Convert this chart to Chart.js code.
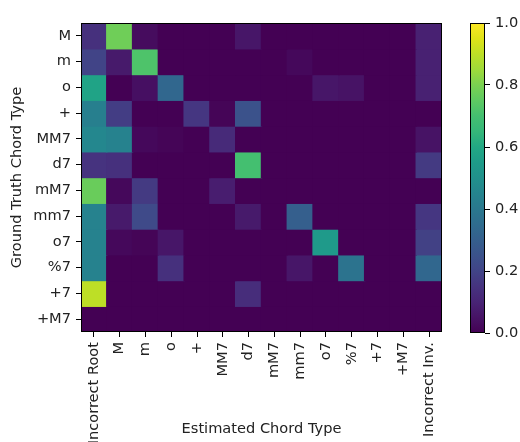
<!DOCTYPE html>
<html>
<head>
<meta charset="utf-8">
<script src="https://cdn.jsdelivr.net/npm/chart.js@4.4.0/dist/chart.umd.min.js"></script>
<style>
  html, body { margin: 0; padding: 0; background: #fff; }
  #wrap { position: relative; width: 520px; height: 442px; }
  #mainBox { position: absolute; left: 0; top: 0; width: 458px; height: 442px; }
  #barBox { position: absolute; left: 458px; top: 0; width: 62px; height: 442px; }
</style>
</head>
<body>
<div id="wrap">
  <div id="mainBox"><canvas id="confChart"></canvas></div>
  <div id="barBox"><canvas id="colorBar"></canvas></div>
</div>
<script>
// estimated / ground truth chord types
var estLabels = ["Incorrect Root", "M", "m", "o", "+", "MM7", "d7", "mM7", "mm7", "o7", "%7", "+7", "+M7", "Incorrect Inv."];
var truthLabels = ["M", "m", "o", "+", "MM7", "d7", "mM7", "mm7", "o7", "%7", "+7", "+M7"];

// one row per ground truth type
var rowM   = [0.14, 0.78, 0.03, 0, 0, 0, 0.06, 0, 0, 0, 0, 0, 0, 0.09];
var rowm   = [0.20, 0.07, 0.72, 0, 0, 0, 0, 0, 0.02, 0, 0, 0, 0, 0.09];
var rowo   = [0.58, 0, 0.04, 0.33, 0, 0, 0, 0, 0, 0.06, 0.05, 0, 0, 0.09];
var rowAug = [0.43, 0.18, 0, 0, 0.16, 0.01, 0.25, 0, 0, 0, 0, 0, 0, 0];
var rowMM7 = [0.46, 0.44, 0.02, 0.01, 0, 0.12, 0, 0, 0, 0, 0, 0, 0, 0.05];
var rowd7  = [0.15, 0.14, 0, 0, 0, 0, 0.70, 0, 0, 0, 0, 0, 0, 0.17];
var rowmM7 = [0.77, 0.02, 0.17, 0, 0, 0.08, 0, 0, 0, 0, 0, 0, 0, 0];
var rowmm7 = [0.44, 0.07, 0.22, 0, 0, 0, 0.07, 0, 0.30, 0, 0, 0, 0, 0.16];
var rowo7  = [0.44, 0.02, 0.01, 0.06, 0, 0, 0, 0, 0, 0.54, 0, 0, 0, 0.19];
var rowHd7 = [0.44, 0, 0, 0.14, 0, 0, 0, 0, 0.06, 0, 0.38, 0, 0, 0.33];
var rowA7  = [0.90, 0, 0, 0, 0, 0, 0.13, 0, 0, 0, 0, 0, 0, 0];
var rowAM7 = [0, 0, 0, 0, 0, 0, 0, 0, 0, 0, 0, 0, 0, 0];
var matrixRows = [rowM, rowm, rowo, rowAug, rowMM7, rowd7, rowmM7, rowmm7, rowo7, rowHd7, rowA7, rowAM7];

var cbTicks = [0, 0.2, 0.4, 0.6, 0.8, 1.0];

// viridis
var viridis = ["#440154","#471365","#482475","#46337f","#414487","#3b528b","#355f8d","#2f6c8e","#2a788e","#25848e",
               "#21918c","#1e9c89","#22a884","#35b779","#44bf70","#5ec962","#7ad151","#9fda3a","#bddf26","#dfe318","#fde725"];

function hexRgb(h){
	return [parseInt(h.substr(1,2),16), parseInt(h.substr(3,2),16), parseInt(h.substr(5,2),16)];
}
function viridisColor(v){
	v = Math.max(0, Math.min(1, v));
	var p = v * (viridis.length - 1);
	var i = Math.min(Math.floor(p), viridis.length - 2);
	var t = p - i;
	var a = hexRgb(viridis[i]), b = hexRgb(viridis[i+1]);
	return 'rgb(' + Math.round(a[0]+(b[0]-a[0])*t) + ',' + Math.round(a[1]+(b[1]-a[1])*t) + ',' + Math.round(a[2]+(b[2]-a[2])*t) + ')';
}

var fontSet = { family: "'DejaVu Sans', sans-serif", size: 14.6 };
var txtColor = '#222';

var framePlugin = {
	id: 'frame',
	afterDraw: function(chart){
		var a = chart.chartArea, c = chart.ctx;
		c.save();
		c.strokeStyle = '#000';
		c.lineWidth = 1;
		c.strokeRect(Math.round(a.left) + 0.5, Math.round(a.top) + 0.5, Math.round(a.right - a.left) - 1, Math.round(a.bottom - a.top) - 1);
		c.restore();
	}
};

function makeConfChart(){
	var datasets = [];
	for(var i=0; i<matrixRows.length; i++){
		datasets.push({
			label: truthLabels[i],
			data: matrixRows[i].map(function(){ return 1; }),
			backgroundColor: matrixRows[i].map(viridisColor),
			borderWidth: 0,
			inflateAmount: 0.7,
			barPercentage: 1,
			categoryPercentage: 1
		});
	}
	new Chart(document.getElementById('confChart'), {
		type: 'bar',
		data: { labels: estLabels, datasets: datasets },
		options: {
			responsive: true,
			maintainAspectRatio: false,
			animation: false,
			layout: { padding: { left: 4, top: 23, right: 16, bottom: 0 } },
			plugins: { legend: { display: false }, tooltip: { enabled: false } },
			scales: {
				x: {
					stacked: true,
					grid: { display: true, drawOnChartArea: false, offset: false, tickLength: 5, color: '#000' },
					border: { display: false },
					ticks: { font: fontSet, color: txtColor, minRotation: 90, maxRotation: 90, autoSkip: false, padding: 5 },
					title: { display: true, text: 'Estimated Chord Type', font: fontSet, color: txtColor },
					afterFit: function(s){ s.height = 110; }
				},
				y: {
					stacked: true,
					reverse: true,
					min: 0,
					max: truthLabels.length,
					grid: { display: true, drawOnChartArea: false, tickLength: 5, color: '#000' },
					border: { display: false },
					afterBuildTicks: function(s){
						s.ticks = truthLabels.map(function(l, i){ return { value: i + 0.5 }; });
					},
					ticks: {
						font: fontSet, color: txtColor, padding: 5,
						callback: function(v){ return truthLabels[Math.floor(v)]; }
					},
					title: { display: true, text: 'Ground Truth Chord Type', font: fontSet, color: txtColor },
					afterFit: function(s){ s.width = 77; }
				}
			}
		},
		plugins: [framePlugin]
	});
}

function makeColorBar(){
	new Chart(document.getElementById('colorBar'), {
		type: 'bar',
		data: {
			labels: [''],
			datasets: [{
				data: [[cbTicks[0], cbTicks[cbTicks.length-1]]],
				borderWidth: 0,
				barPercentage: 1,
				categoryPercentage: 1,
				backgroundColor: function(ctx){
					var a = ctx.chart.chartArea;
					if(!a) return viridis[0];
					var g = ctx.chart.ctx.createLinearGradient(0, a.bottom, 0, a.top);
					for(var i=0; i<viridis.length; i++) g.addColorStop(i/(viridis.length-1), viridis[i]);
					return g;
				}
			}]
		},
		options: {
			responsive: true,
			maintainAspectRatio: false,
			animation: false,
			layout: { padding: { left: 12, top: 23, right: 0, bottom: 109 } },
			plugins: { legend: { display: false }, tooltip: { enabled: false } },
			scales: {
				x: { display: false },
				y: {
					position: 'right',
					min: 0, max: 1,
					grid: { display: true, drawOnChartArea: false, tickLength: 5, color: '#000' },
					border: { display: false },
					afterBuildTicks: function(s){
						s.ticks = cbTicks.map(function(v){ return { value: v }; });
					},
					ticks: { font: fontSet, color: txtColor, padding: 5, callback: function(v){ return v.toFixed(1); } },
					afterFit: function(s){ s.width = 35; }
				}
			}
		},
		plugins: [framePlugin]
	});
}

makeConfChart();
makeColorBar();
</script>
</body>
</html>
